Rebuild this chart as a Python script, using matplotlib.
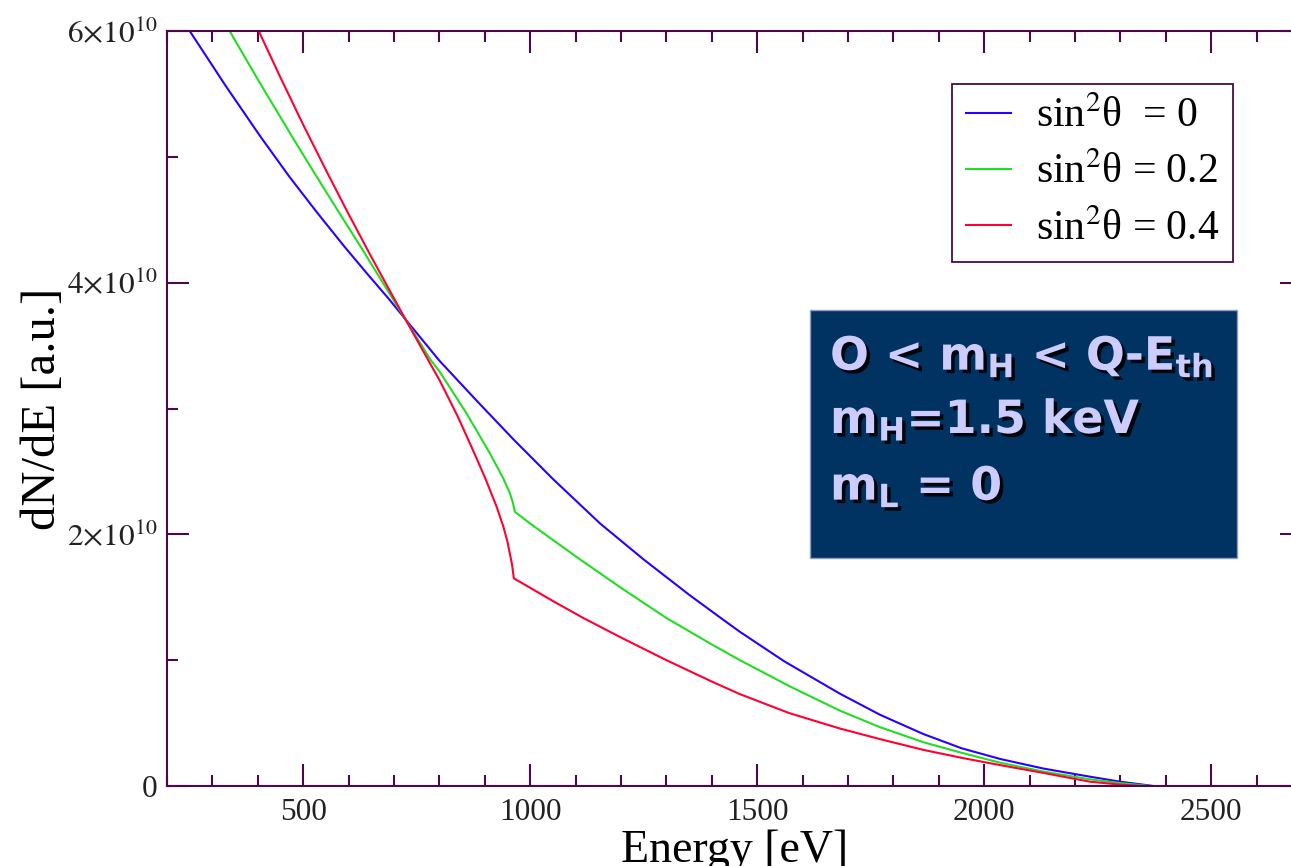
import numpy as np
import matplotlib
matplotlib.use("Agg")
import matplotlib.pyplot as plt
import matplotlib.patheffects as pe
from matplotlib.patches import Rectangle
from matplotlib.ticker import MultipleLocator

plt.rcParams['mathtext.fontset'] = 'stix'
plt.rcParams['font.family'] = ['Liberation Serif', 'DejaVu Serif']

# --- Data, dN/dE in units of 1e10 ---
energy_s0 = [250, 330, 406, 470, 530, 590, 640, 690, 725, 800, 880, 963, 1050,
             1154, 1250, 1350, 1418, 1462, 1560, 1682, 1770, 1866, 1950, 2035,
             2130, 2233, 2300, 2373]
dnde_s0 = [6.0, 5.56, 5.16, 4.84, 4.56, 4.29, 4.075, 3.865, 3.71, 3.38, 3.07, 2.755,
           2.44, 2.086, 1.80, 1.52, 1.34, 1.225, 0.99, 0.734, 0.567, 0.413, 0.30,
           0.215, 0.139, 0.074, 0.034, 0.0]

energy_s02 = [338, 400, 479, 530, 582, 630, 677, 725, 780, 801, 860, 911, 940, 955,
              962, 966, 1000, 1110, 1200, 1300, 1400, 1462, 1570, 1682, 1770, 1866,
              1950, 2035, 2130, 2233, 2300, 2365]
dnde_s02 = [6.0, 5.615, 5.14, 4.84, 4.54, 4.266, 3.99, 3.71, 3.39, 3.29, 2.96, 2.645,
            2.45, 2.33, 2.25, 2.18, 2.085, 1.80, 1.575, 1.335, 1.125, 1.0, 0.795,
            0.599, 0.468, 0.348, 0.264, 0.185, 0.115, 0.053, 0.023, 0.0]

energy_s04 = [402, 450, 500, 550, 600, 650, 700, 725, 773, 801, 840, 875, 900, 926,
              941, 950, 955, 960, 964, 1000, 1050, 1117, 1200, 1300, 1400, 1462,
              1570, 1682, 1770, 1866, 1950, 2035, 2130, 2233, 2300, 2350]
dnde_s04 = [6.0, 5.63, 5.255, 4.895, 4.545, 4.205, 3.875, 3.71, 3.40, 3.22, 2.94,
            2.66, 2.455, 2.22, 2.06, 1.94, 1.85, 1.76, 1.65, 1.575, 1.47, 1.335,
            1.18, 1.0, 0.83, 0.73, 0.58, 0.457, 0.373, 0.287, 0.224, 0.166, 0.104,
            0.034, 0.011, 0.0]

labels = ['sin$^2$θ  = 0', 'sin$^2$θ = 0.2', 'sin$^2$θ = 0.4']
colors = ['#2a00ff', '#22dd22', '#ff0033']

ytick_vals = [0, 2e10, 4e10, 6e10]
ytick_labels = ['0', r'$2{\times}10^{10}$', r'$4{\times}10^{10}$', r'$6{\times}10^{10}$']
xtick_vals = [500, 1000, 1500, 2000, 2500]

frame_col = '#4a0a4a'

# --- Plot ---
fig = plt.figure(figsize=(12.91, 8.66), dpi=100)
ax = fig.add_axes([167 / 1291, 1 - 786 / 866, (1302 - 167) / 1291, (786 - 31) / 866])

series = [(energy_s0, dnde_s0), (energy_s02, dnde_s02), (energy_s04, dnde_s04)]
for (e, v), lab, c in zip(series, labels, colors):
    ax.plot(e, np.array(v) * 1e10, color=c, lw=1.5, label=lab)

ax.set_xlim(200, 2700)
ax.set_ylim(0, 6e10)
ax.set_xticks(xtick_vals)
ax.xaxis.set_minor_locator(MultipleLocator(100))
ax.set_yticks(ytick_vals, ytick_labels)
ax.yaxis.set_minor_locator(MultipleLocator(1e10))

for s in ax.spines.values():
    s.set_color(frame_col)
    s.set_linewidth(1.5)
ax.tick_params(which='both', direction='in', top=True, right=True, color=frame_col,
               labelsize=22.5, labelcolor='#222222')
ax.tick_params(which='major', length=16, width=1.5)
ax.tick_params(which='minor', length=8, width=1.5)
ax.tick_params(axis='x', which='major', pad=9)
ax.tick_params(axis='y', which='major', pad=7)

ax.set_xlabel('Energy [eV]', fontsize=33, labelpad=1.5)
ax.set_ylabel('dN/dE [a.u.]', fontsize=35, labelpad=1)

leg = ax.legend(loc='upper right', bbox_to_anchor=(1233 / 1291, 1 - 84 / 866),
                bbox_transform=fig.transFigure, borderaxespad=0, fancybox=False,
                prop={'family': 'Liberation Serif', 'size': 30}, handlelength=1.1,
                labelspacing=0.42, handletextpad=0.6, borderpad=0.32)
leg.get_frame().set_edgecolor(frame_col)
leg.get_frame().set_linewidth(1.3)
leg.get_frame().set_alpha(1)

# Annotation box
fig.patches.append(Rectangle((810 / 1291, 1 - 558 / 866), 427 / 1291, 248 / 866,
                             transform=fig.transFigure, facecolor='#003262',
                             edgecolor='#8aa0c0', linewidth=1, zorder=5))
shadow = [pe.SimplePatchShadow(offset=(2.5, -2.5), shadow_rgbFace='black', alpha=0.9),
          pe.Normal()]
box_lines = [r'O < $\mathbf{m_H}$ < Q-$\mathbf{E_{th}}$',
             r'$\mathbf{m_H}$=1.5 keV',
             r'$\mathbf{m_L}$ = 0']
baselines = [370, 433, 500]
for txt, yb in zip(box_lines, baselines):
    fig.text(830 / 1291, 1 - yb / 866, txt, color='#ccccff', fontsize=33,
             fontfamily='DejaVu Sans', fontweight='bold', math_fontfamily='dejavusans',
             va='baseline', ha='left', path_effects=shadow, zorder=6)

fig.savefig('out.png', dpi=100)
